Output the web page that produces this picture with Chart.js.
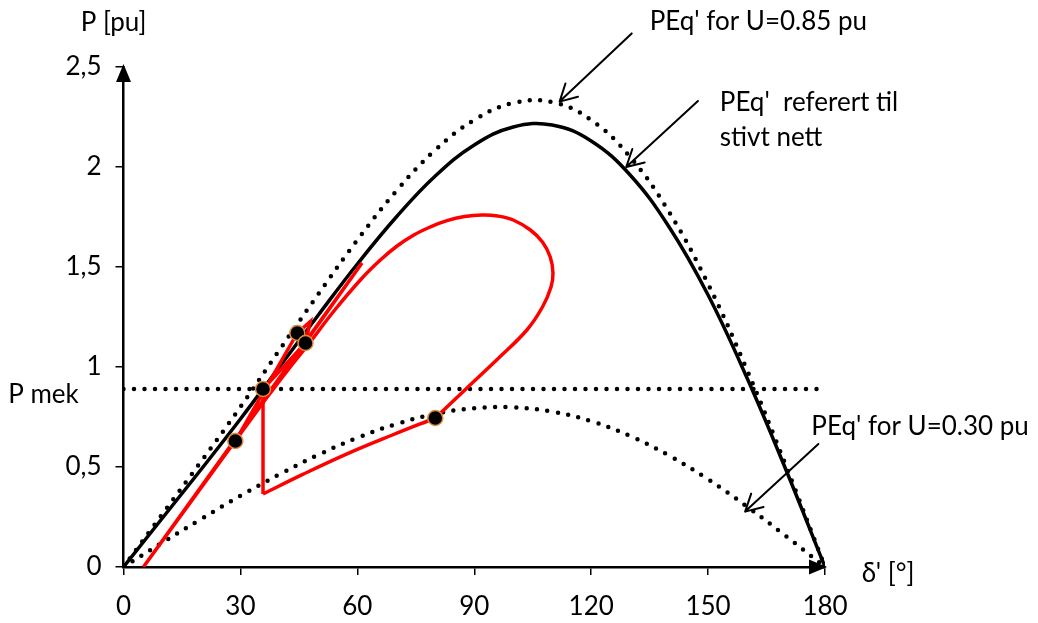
<!DOCTYPE html>
<html>
<head>
<meta charset="utf-8">
<script src="https://cdn.jsdelivr.net/npm/chart.js@4.4.0/dist/chart.umd.min.js"></script>
<style>
  html, body { margin: 0; background: #fff; }
</style>
</head>
<body>
<canvas id="pd" width="1038" height="623"></canvas>
<script>
const FONT = 'Lato, "Open Sans", sans-serif';

// power angle curves, delta in degrees, P in pu
const deltaDeg = [0, 10, 20, 30, 40, 50, 60, 70, 80, 90, 100, 110, 120, 130, 140, 150, 160, 170, 180];
const pStiff   = [0, 0.245, 0.49, 0.74, 1.0, 1.26, 1.515, 1.75, 1.955, 2.11, 2.2, 2.21, 2.13, 1.96, 1.70, 1.36, 0.945, 0.485, 0];
const pU085    = [0, 0.265, 0.53, 0.80, 1.085, 1.365, 1.635, 1.88, 2.085, 2.235, 2.32, 2.325, 2.235, 2.05, 1.775, 1.415, 0.985, 0.505, 0];
const pU030    = [0, 0.122, 0.241, 0.356, 0.463, 0.561, 0.646, 0.715, 0.766, 0.794, 0.798, 0.777, 0.729, 0.655, 0.557, 0.438, 0.302, 0.154, 0];

// mechanical power
const pMek = 0.89;
const pMekSpan = [0, 179];

// rotor trajectory: voltage drop, acceleration during fault, swing loop after clearing, damped swings
const dropDelta  = [35.8, 35.8];
const dropP      = [0.89, 0.365];
const faultDelta = [35.8, 46, 57.5, 69, 80];
const faultP     = [0.365, 0.463, 0.567, 0.66, 0.745];
const loopDelta  = [80, 88, 96, 103.5, 107.5, 109.7, 110.2, 109.5, 107.5, 104.4, 100, 96, 92, 87.5, 83, 78.7, 74.5, 70.2, 65.9, 61, 54, 47.9, 42, 36.5];
const loopP      = [0.745, 0.893, 1.04, 1.185, 1.30, 1.40, 1.47, 1.55, 1.625, 1.685, 1.735, 1.755, 1.76, 1.752, 1.732, 1.70, 1.66, 1.605, 1.535, 1.44, 1.28, 1.125, 0.98, 0.84];
const swingDelta = [36.5, 5.1, 61.2, 28.7, 44.6, 47.9, 46.7, 35.8];
const swingP     = [0.84, 0, 1.52, 0.63, 1.17, 1.227, 1.12, 0.89];

// marked states
const markDelta = [35.8, 80, 28.7, 44.6, 46.7];
const markP     = [0.89, 0.745, 0.63, 1.17, 1.12];

const pts = (xs, ys) => xs.map((x, i) => ({ x: x, y: ys[i] }));

// text and pointers, placed in axis units
const notes = [
  { text: 'PEq\' for U=0.85 pu', d: 135, p: 2.725 },
  { text: 'PEq\'  referert til', d: 153, p: 2.32 },
  { text: 'stivt nett', d: 153, p: 2.145 },
  { text: 'PEq\' for U=0.30 pu', d: 176.5, p: 0.70 },
  { text: 'P mek', d: -29.6, p: 0.86 },
  { text: 'P [pu]', d: -11, p: 2.72 },
  { text: 'δ\' [°]', d: 189.4, p: -0.035 }
];
const pointers = [
  { from: [130.4, 2.668], to: [111.9, 2.327] },
  { from: [147.4, 2.33], to: [129.0, 2.0] },
  { from: [178.3, 0.615], to: [159.5, 0.277] }
];

const decor = {
  id: 'decor',
  afterDraw(chart) {
    const { ctx, chartArea: a, scales: { x, y } } = chart;
    ctx.save();
    ctx.fillStyle = '#000';
    ctx.strokeStyle = '#000';

    // axis arrowheads
    ctx.beginPath();
    ctx.moveTo(a.left, a.top - 3);
    ctx.lineTo(a.left - 7.5, a.top + 15);
    ctx.lineTo(a.left + 7.5, a.top + 15);
    ctx.closePath();
    ctx.fill();
    ctx.beginPath();
    ctx.moveTo(a.right + 2, a.bottom);
    ctx.lineTo(a.right - 16, a.bottom - 7.5);
    ctx.lineTo(a.right - 16, a.bottom + 7.5);
    ctx.closePath();
    ctx.fill();

    // pointers with open heads
    ctx.lineWidth = 2;
    ctx.lineCap = 'round';
    pointers.forEach(pt => {
      const x0 = x.getPixelForValue(pt.from[0]), y0 = y.getPixelForValue(pt.from[1]);
      const x1 = x.getPixelForValue(pt.to[0]), y1 = y.getPixelForValue(pt.to[1]);
      const ang = Math.atan2(y0 - y1, x0 - x1);
      ctx.beginPath();
      ctx.moveTo(x0, y0);
      ctx.lineTo(x1, y1);
      [-0.5, 0.5].forEach(da => {
        ctx.moveTo(x1, y1);
        ctx.lineTo(x1 + 19 * Math.cos(ang + da), y1 + 19 * Math.sin(ang + da));
      });
      ctx.stroke();
    });

    ctx.font = '26px ' + FONT;
    ctx.textBaseline = 'middle';
    ctx.textAlign = 'left';
    notes.forEach(n => ctx.fillText(n.text, x.getPixelForValue(n.d), y.getPixelForValue(n.p)));
    ctx.restore();
  }
};

const dotted = { borderDash: [0, 10.5], borderCapStyle: 'round', borderWidth: 4.5, borderColor: '#000' };
const red = { showLine: true, pointRadius: 0, borderColor: '#FF0000', borderWidth: 3.5, order: 1 };

new Chart(document.getElementById('pd'), {
  type: 'scatter',
  data: {
    datasets: [
      { data: pts(markDelta, markP), pointRadius: 7.5, pointBackgroundColor: '#000',
        pointBorderColor: '#E08C3C', pointBorderWidth: 1.5, order: 0 },
      Object.assign({ data: pts(dropDelta, dropP), tension: 0 }, red),
      Object.assign({ data: pts(faultDelta, faultP), tension: 0.4 }, red),
      Object.assign({ data: pts(loopDelta, loopP), tension: 0.4 }, red),
      Object.assign({ data: pts(swingDelta, swingP), tension: 0 }, red),
      { data: pts(deltaDeg, pStiff), showLine: true, pointRadius: 0, borderColor: '#000', borderWidth: 3.5, tension: 0.4, order: 2 },
      Object.assign({ data: pts(deltaDeg, pU085), showLine: true, pointRadius: 0, tension: 0.4, order: 3 }, dotted),
      Object.assign({ data: pts(deltaDeg, pU030), showLine: true, pointRadius: 0, tension: 0.4, order: 3 }, dotted),
      Object.assign({ data: pts(pMekSpan, [pMek, pMek]), showLine: true, pointRadius: 0, order: 3 }, dotted)
    ]
  },
  options: {
    responsive: false,
    animation: false,
    layout: { padding: { left: 0, top: 67, right: 213, bottom: 0 } },
    plugins: { legend: { display: false }, tooltip: { enabled: false } },
    scales: {
      x: {
        type: 'linear', min: 0, max: 180,
        ticks: { stepSize: 30, color: '#000', font: { family: FONT, size: 26 }, padding: 16, maxRotation: 0 },
        grid: { drawOnChartArea: false, tickLength: 8, color: '#000', lineWidth: 1.5 },
        border: { color: '#000', width: 2.5 },
        afterFit: s => { s.height = 56; }
      },
      y: {
        min: 0, max: 2.5,
        ticks: { stepSize: 0.5, color: '#000', font: { family: FONT, size: 26 }, padding: 14,
                 callback: v => String(v).replace('.', ',') },
        grid: { drawOnChartArea: false, tickLength: 8, color: '#000', lineWidth: 1.5 },
        border: { color: '#000', width: 2.5 },
        afterFit: s => { s.width = 123.5; }
      }
    }
  },
  plugins: [decor]
});
</script>
</body>
</html>
